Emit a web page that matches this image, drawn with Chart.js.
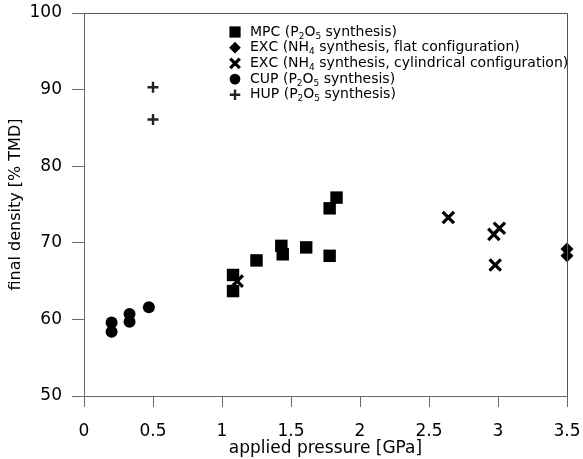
<!DOCTYPE html>
<html>
<head>
<meta charset="utf-8">
<script src="https://cdn.jsdelivr.net/npm/chart.js@4/dist/chart.umd.min.js"></script>
<style>
  html, body { margin: 0; padding: 0; background: #fff; }
  canvas { display: block; }
</style>
</head>
<body>
<canvas id="grafica" width="583" height="459"></canvas>
<script>
// datos (presion en GPa, densidad en % TMD)
const mpcX = [1.08, 1.08, 1.25, 1.43, 1.44, 1.61, 1.78, 1.78, 1.83];
const mpcY = [65.8, 63.7, 67.7, 69.6, 68.5, 69.4, 68.3, 74.5, 75.9];
const excFlatX = [3.5, 3.5];
const excFlatY = [69.2, 68.3];
const excCylX = [1.11, 2.64, 2.97, 3.01, 2.98];
const excCylY = [65.0, 73.3, 71.1, 71.9, 67.1];
const cupX = [0.2, 0.2, 0.33, 0.33, 0.47];
const cupY = [59.6, 58.4, 60.7, 59.7, 61.6];
const hupX = [0.5, 0.5];
const hupY = [90.3, 86.1];

const labels = [
  "MPC (P₂O₅ synthesis)",
  "EXC (NH₄ synthesis, flat configuration)",
  "EXC (NH₄ synthesis, cylindrical configuration)",
  "CUP (P₂O₅ synthesis)",
  "HUP (P₂O₅ synthesis)"
];
const xTicks = [0, 0.5, 1, 1.5, 2, 2.5, 3, 3.5];
const yTicks = [50, 60, 70, 80, 90, 100];

const FONT = "DejaVu Sans";
const INK = "#000";
const AXIS = "#6a6a6a";

function pares(xs, ys) {
  return xs.map((x, i) => ({ x: x, y: ys[i] }));
}

// texto con subindices (caracteres ₀-₉)
const SUB = "₀₁₂₃₄₅₆₇₈₉";
function textoSub(ctx, txt, x, y, size) {
  let cx = x;
  for (const ch of txt) {
    const k = SUB.indexOf(ch);
    if (k >= 0) {
      ctx.font = `${Math.round(size * 0.62)}px "${FONT}"`;
      ctx.fillText(String(k), cx, y + size * 0.3);
      cx += ctx.measureText(String(k)).width;
    } else {
      ctx.font = `${size}px "${FONT}"`;
      ctx.fillText(ch, cx, y);
      cx += ctx.measureText(ch).width;
    }
  }
}

const marcoYLeyenda = {
  id: "marcoYLeyenda",
  afterDatasetsDraw(chart) {
    const { ctx, chartArea } = chart;
    ctx.save();
    // marco superior y derecho
    ctx.strokeStyle = "#555";
    ctx.lineWidth = 1;
    ctx.beginPath();
    ctx.moveTo(chartArea.left, chartArea.top + 0.5);
    ctx.lineTo(chartArea.right + 0.5, chartArea.top + 0.5);
    ctx.lineTo(chartArea.right + 0.5, chartArea.bottom);
    ctx.stroke();

    // leyenda
    const mx = chartArea.left + 151;
    const tx = chartArea.left + 166;
    let y = chartArea.top + 19;
    chart.data.datasets.forEach((ds) => {
      ctx.fillStyle = ds.backgroundColor;
      ctx.strokeStyle = ds.borderColor;
      ctx.lineWidth = ds.borderWidth;
      Chart.helpers.drawPoint(ctx, {
        pointStyle: ds.pointStyle,
        radius: ds.pointRadius * ds.legendScale,
        borderWidth: ds.borderWidth,
        rotation: 0
      }, mx, y);
      ctx.fillStyle = INK;
      ctx.textBaseline = "middle";
      ctx.textAlign = "left";
      textoSub(ctx, ds.label, tx, y, 14);
      y += 15.7;
    });
    ctx.restore();
  }
};

const ctx = document.getElementById("grafica").getContext("2d");

new Chart(ctx, {
  type: "scatter",
  data: {
    datasets: [
      { label: labels[0], data: pares(mpcX, mpcY), pointStyle: "rect", pointRadius: 8.8,
        backgroundColor: "#000", borderColor: "#000", borderWidth: 0, legendScale: 0.9 },
      { label: labels[1], data: pares(excFlatX, excFlatY), pointStyle: "rectRot", pointRadius: 6.5,
        backgroundColor: "#000", borderColor: "#000", borderWidth: 0, legendScale: 0.9 },
      { label: labels[2], data: pares(excCylX, excCylY), pointStyle: "crossRot", pointRadius: 8,
        backgroundColor: "#000", borderColor: "#000", borderWidth: 3.2, legendScale: 0.85 },
      { label: labels[3], data: pares(cupX, cupY), pointStyle: "circle", pointRadius: 6,
        backgroundColor: "#000", borderColor: "#000", borderWidth: 0, legendScale: 0.9 },
      { label: labels[4], data: pares(hupX, hupY), pointStyle: "cross", pointRadius: 5.5,
        backgroundColor: "#222", borderColor: "#222", borderWidth: 2.4, legendScale: 0.95 }
    ].map(d => Object.assign(d, { pointHoverRadius: d.pointRadius, clip: false }))
  },
  options: {
    responsive: false,
    animation: false,
    events: [],
    layout: { padding: { top: 13, right: 16, left: 0, bottom: 0 } },
    scales: {
      x: {
        type: "linear",
        min: 0,
        max: 3.5,
        afterBuildTicks: (s) => { s.ticks = xTicks.map(v => ({ value: v })); },
        afterFit: (s) => { s.height = 63; s.paddingLeft = 0; s.paddingRight = 0; },
        grid: { drawOnChartArea: false, drawTicks: true, tickLength: 11, color: AXIS },
        border: { color: AXIS, width: 1 },
        ticks: { color: INK, padding: 14, maxRotation: 0, font: { family: FONT, size: 17 },
                 callback: (v) => String(v) },
        title: { display: true, text: "applied pressure [GPa]", color: INK, padding: { top: 0, bottom: 0 },
                 font: { family: FONT, size: 17 } }
      },
      y: {
        type: "linear",
        min: 50,
        max: 100,
        afterBuildTicks: (s) => { s.ticks = yTicks.map(v => ({ value: v })); },
        afterFit: (s) => { s.width = 84; s.paddingTop = 0; s.paddingBottom = 0; },
        grid: { drawOnChartArea: false, drawTicks: true, tickLength: 12, color: AXIS },
        border: { color: AXIS, width: 1 },
        ticks: { color: INK, padding: 10, font: { family: FONT, size: 17 },
                 callback: (v) => String(v) },
        title: { display: true, text: "final density [% TMD]", color: INK, padding: { top: 6, bottom: 0 },
                 font: { family: FONT, size: 16 } }
      }
    },
    plugins: {
      legend: { display: false },
      tooltip: { enabled: false }
    }
  },
  plugins: [marcoYLeyenda]
});
</script>
</body>
</html>
